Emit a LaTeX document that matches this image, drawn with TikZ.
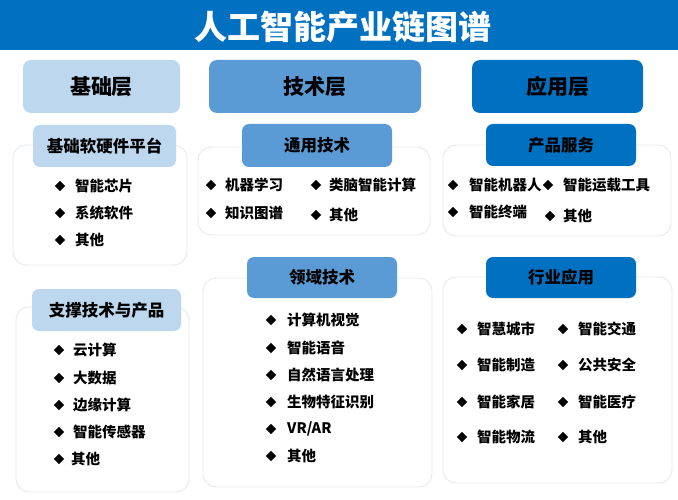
\documentclass[tikz,border=0pt]{standalone}
\usepackage{fontspec}
\setmainfont{Noto Sans CJK SC}
\usetikzlibrary{shapes.geometric}
\definecolor{dblue}{HTML}{0070C0}
\definecolor{mblue}{HTML}{5B9BD5}
\definecolor{lblue}{HTML}{BDD7EE}
\definecolor{pline}{HTML}{E6E9EE}
\newcommand\myitem[5]{%
  \node[dia] (#1d) at (#2,#4) {};
  \node[itemtxt] (#1) at (#3,#4) {#5};}
\begin{document}
\begin{tikzpicture}[x=1pt,y=-1pt,
  panel/.style={draw=pline, line width=0.9pt, rounded corners=13pt, fill=white, inner sep=0pt},
  hdr/.style={rounded corners=7pt, draw=none, inner sep=0pt, font=\fontsize{16.5}{19}\selectfont\bfseries},
  lvl/.style={rounded corners=8pt, draw=none, inner sep=0pt, font=\fontsize{21}{24}\selectfont\bfseries},
  itemtxt/.style={anchor=west, inner sep=0pt, font=\fontsize{14.5}{17}\selectfont\bfseries},
  dia/.style={diamond, fill=black, inner sep=0pt, minimum width=10.5pt, minimum height=10.5pt}]
\useasboundingbox (0,0) rectangle (678,500);
\fill[white] (0,0) rectangle (678,500);
% title bar
\fill[dblue] (0,0) rectangle (678,50);
\node[text=white, font=\fontsize{33}{36}\selectfont\bfseries, inner sep=0pt] (title) at (343,27) {人工智能产业链图谱};
% level headers
\node[lvl, fill=lblue, minimum width=157pt, minimum height=53pt] (L1) at (101.5,86.5) {基础层};
\node[lvl, fill=mblue, minimum width=212pt, minimum height=53pt] (L2) at (315,86.5) {技术层};
\node[lvl, fill=dblue, minimum width=171pt, minimum height=53pt] (L3) at (557.5,86.5) {应用层};
% panels
\node[panel, minimum width=174pt, minimum height=120pt] (P1) at (100,205) {};
\node[panel, minimum width=173pt, minimum height=185pt] (P2) at (102.5,399.5) {};
\node[panel, minimum width=232pt, minimum height=88pt] (P3) at (314,191) {};
\node[panel, minimum width=229pt, minimum height=209pt] (P4) at (317.5,382.5) {};
\node[panel, minimum width=228pt, minimum height=91pt] (P5) at (557,190.5) {};
\node[panel, minimum width=229pt, minimum height=206pt] (P6) at (557.5,380) {};
% sub headers
\node[hdr, fill=lblue, minimum width=143pt, minimum height=42pt] (H1) at (104.5,146) {基础软硬件平台};
\node[hdr, fill=lblue, minimum width=149pt, minimum height=42pt] (H2) at (106.5,310) {支撑技术与产品};
\node[hdr, fill=mblue, minimum width=150pt, minimum height=43pt] (H3) at (317,145.5) {通用技术};
\node[hdr, fill=mblue, minimum width=150pt, minimum height=41pt] (H4) at (322,277.5) {领域技术};
\node[hdr, fill=dblue, minimum width=150pt, minimum height=42pt] (H5) at (561,145) {产品服务};
\node[hdr, fill=dblue, minimum width=150pt, minimum height=41pt] (H6) at (561,277.5) {行业应用};
% items P1
\myitem{a1}{60}{75}{186}{智能芯片}
\myitem{a2}{60}{75}{213}{系统软件}
\myitem{a3}{60}{75}{240}{其他}
% items P2
\myitem{b1}{59}{73}{350}{云计算}
\myitem{b2}{59}{73}{378}{大数据}
\myitem{b3}{59}{73}{405}{边缘计算}
\myitem{b4}{59}{73}{432}{智能传感器}
\myitem{b5}{59}{71}{459}{其他}
% items P3
\myitem{c1}{211}{225}{185}{机器学习}
\myitem{c2}{211}{225}{213}{知识图谱}
\myitem{c3}{316}{329}{185}{类脑智能计算}
\myitem{c4}{316}{329}{215}{其他}
% items P4
\myitem{d1}{271}{287}{320}{计算机视觉}
\myitem{d2}{271}{287}{348}{智能语音}
\myitem{d3}{271}{287}{375}{自然语言处理}
\myitem{d4}{271}{287}{402}{生物特征识别}
\myitem{d5}{271}{287}{429}{VR/AR}
\myitem{d6}{271}{287}{456}{其他}
% items P5
\myitem{e1}{453}{469}{185}{智能机器人}
\myitem{e2}{453}{469}{212}{智能终端}
\myitem{e3}{548}{563}{185}{智能运载工具}
\myitem{e4}{550}{563}{216}{其他}
% items P6
\myitem{f1}{462}{477}{329}{智慧城市}
\myitem{f2}{462}{477}{365}{智能制造}
\myitem{f3}{462}{477}{402}{智能家居}
\myitem{f4}{462}{477}{437}{智能物流}
\myitem{f5}{563}{578}{329}{智能交通}
\myitem{f6}{563}{578}{365}{公共安全}
\myitem{f7}{563}{578}{402}{智能医疗}
\myitem{f8}{563}{578}{437}{其他}
\end{tikzpicture}
\end{document}
